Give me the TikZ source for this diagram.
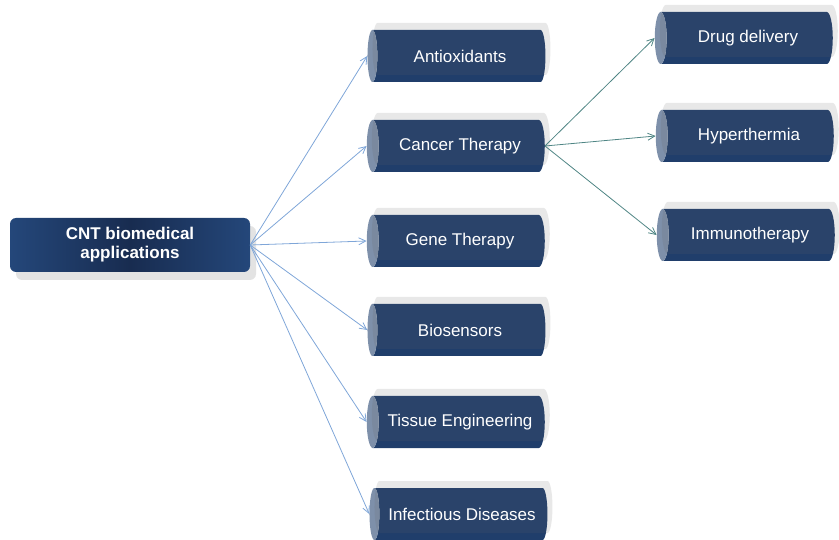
\documentclass[tikz,border=0pt]{standalone}
\usepackage{fontspec}
\setmainfont{Liberation Sans}
\usetikzlibrary{shapes.geometric,arrows.meta,shadows}

\definecolor{navyedge}{HTML}{24477A}
\definecolor{navymid}{HTML}{182C50}
\definecolor{capface}{HTML}{7E90AA}
\definecolor{linkblue}{HTML}{7FA6D8}
\definecolor{linkteal}{HTML}{4F8584}

\tikzset{
    topic/.style={cylinder, shape border rotate=180, aspect=0.6, draw=none,
        minimum width=52pt, minimum height=178pt, inner sep=2pt, cylinder uses custom fill,
        cylinder body fill=navyedge!65!navymid, cylinder end fill=capface,
        text=white, font=\fontsize{17}{19}\selectfont,
        drop shadow={shadow xshift=5pt, shadow yshift=7pt, opacity=0.15, fill=black!60}},
    rootbox/.style={rectangle, rounded corners=6pt, draw=none,
        minimum width=240pt, minimum height=54pt, align=center,
        left color=navyedge, right color=navyedge, middle color=navymid,
        text=white, font=\bfseries\fontsize{17}{19}\selectfont,
        drop shadow={shadow xshift=6pt, shadow yshift=-8pt, opacity=0.18, fill=black!60}},
    link/.style={-{Straight Barb[length=7pt,width=7pt]}, line width=0.8pt, draw=linkblue},
    sublink/.style={-{Straight Barb[length=7pt,width=7pt]}, line width=0.8pt, draw=linkteal}
}

\begin{document}
\begin{tikzpicture}[x=1pt, y=-1pt]
    \useasboundingbox (0,0) rectangle (839,540);

    \node[rootbox] (cnt) at (130,245) {CNT biomedical\\applications};

    \node[topic] (anti) at (460,56) {Antioxidants};
    \node[topic] (cancer) at (460,146) {Cancer Therapy};
    \node[topic] (gene) at (460,241) {Gene Therapy};
    \node[topic] (bio) at (460,330) {Biosensors};
    \node[topic] (tissue) at (460,422) {Tissue Engineering};
    \node[topic] (infect) at (462,514) {Infectious Diseases};

    \node[topic] (drug) at (748,38) {Drug delivery};
    \node[topic] (hyper) at (749,136) {Hyperthermia};
    \node[topic] (immuno) at (750,235) {Immunotherapy};

    % first level
    \foreach \t in {anti,cancer,gene,bio,tissue,infect}
        \draw[link] (cnt.east) -- (\t.west);

    % cancer therapy branches
    \foreach \t in {drug,hyper,immuno}
        \draw[sublink] (cancer.east) -- (\t.west);
\end{tikzpicture}
\end{document}
